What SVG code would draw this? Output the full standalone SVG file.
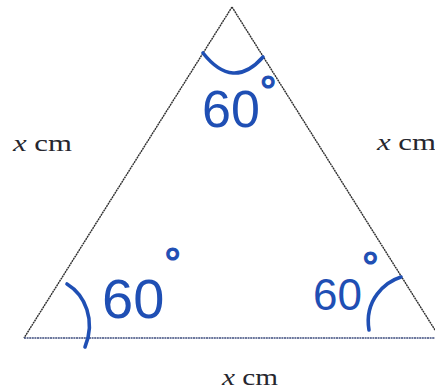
<svg xmlns="http://www.w3.org/2000/svg" width="435" height="391" viewBox="0 0 435 391">
<style>
.side{fill:none;stroke:#2e2e2e;stroke-width:1.4;stroke-dasharray:2 0.6}
.base{fill:none;stroke:#3d4c7e;stroke-width:1.6;stroke-dasharray:2 0.6}
.ink{fill:none;stroke:#1f4fb4;stroke-width:3.6;stroke-linecap:round}
.hand{font-family:"Liberation Sans",Arial,sans-serif;fill:#1f4fb4}
.deg{font-size:42px;stroke:#1f4fb4;stroke-width:1.2}
.lbl{font-family:"Liberation Serif","Times New Roman",serif;font-size:24px;fill:#26262e}
</style>
<rect width="435" height="391" fill="#ffffff"/>
<g id="triangle">
<path class="side" d="M232,7 L24,338"/>
<path class="side" d="M232,7 L440,338"/>
<path class="base" d="M24,338 L440,338"/>
</g>
<g id="angle-top">
<path class="ink" d="M203,53 Q233,91 263,57"/>
<text class="hand" x="202" y="127" font-size="52">60<tspan class="deg" dy="-21">°</tspan></text>
</g>
<g id="angle-left">
<path class="ink" d="M67,284 C85,295 96,320 85,347"/>
<text class="hand" x="102" y="318" font-size="56">60<tspan class="deg" dy="-40">°</tspan></text>
</g>
<g id="angle-right">
<path class="ink" d="M401,277 C385,282 364,300 369,330"/>
<text class="hand" x="313" y="310" font-size="44">60<tspan class="deg" dy="-28">°</tspan></text>
</g>
<g id="labels">
<text class="lbl" x="13" y="151" textLength="59" lengthAdjust="spacingAndGlyphs"><tspan font-style="italic">x</tspan> cm</text>
<text class="lbl" x="377" y="150" textLength="59" lengthAdjust="spacingAndGlyphs"><tspan font-style="italic">x</tspan> cm</text>
<text class="lbl" x="222" y="385" textLength="56" lengthAdjust="spacingAndGlyphs"><tspan font-style="italic">x</tspan> cm</text>
</g>
</svg>
